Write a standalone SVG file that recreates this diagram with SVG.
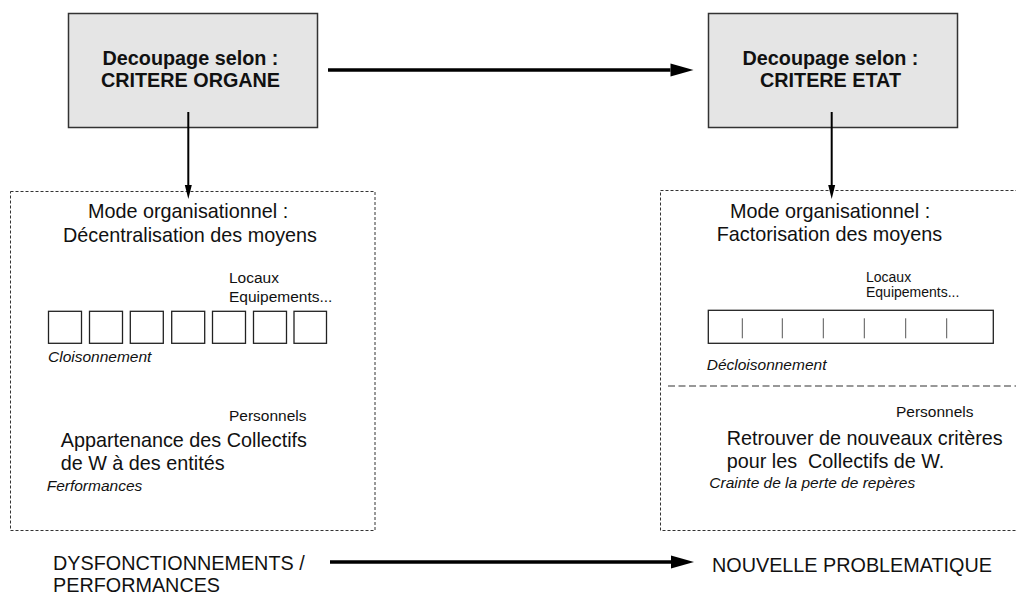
<svg xmlns="http://www.w3.org/2000/svg" width="1016" height="595" viewBox="0 0 1016 595">
<style>
text{font-family:"Liberation Sans",Arial,sans-serif;fill:#111}
.title{font-size:19.8px;font-weight:bold;text-anchor:middle}
.big{font-size:19.8px}
.small{font-size:15.5px}
.it{font-size:15.5px;font-style:italic}
.crit{fill:#e5e5e5;stroke:#333;stroke-width:1.5}
.zone{fill:none;stroke:#333;stroke-width:1;stroke-dasharray:3 2}
.cell{fill:#fff;stroke:#222;stroke-width:1.3}
.tick{stroke:#555;stroke-width:1}
.thick{stroke:#000;stroke-width:3.3;fill:none}
.thin{stroke:#000;stroke-width:2;fill:none}
.sep{stroke:#777;stroke-width:1.3;stroke-dasharray:7 3.5}
</style>
<defs>
<marker id="bigHead" markerUnits="userSpaceOnUse" markerWidth="24" markerHeight="14" refX="0" refY="7" orient="auto" overflow="visible">
<polygon points="0,0.5 23,7 0,13.5" fill="#000"/>
</marker>
<marker id="smallHead" markerUnits="userSpaceOnUse" markerWidth="15" markerHeight="8" refX="0" refY="4" orient="auto" overflow="visible">
<polygon points="0,0.5 14,4 0,7.5" fill="#000"/>
</marker>
</defs>

<g id="node-organe">
<rect class="crit" x="68.5" y="13.5" width="249" height="114"/>
<text class="title" x="190.5" y="65">Decoupage selon :</text>
<text class="title" x="190.5" y="87">CRITERE ORGANE</text>
</g>

<g id="node-etat">
<rect class="crit" x="708.5" y="13.5" width="249" height="114"/>
<text class="title" x="830.5" y="65">Decoupage selon :</text>
<text class="title" x="830.5" y="87">CRITERE ETAT</text>
</g>

<g id="node-decentralisation">
<rect class="zone" x="10.5" y="191.5" width="364.5" height="339"/>
<text class="big" x="88" y="218.3">Mode organisationnel :</text>
<text class="big" x="63" y="241.5">Décentralisation des moyens</text>
<text class="small" x="229" y="283.3">Locaux</text>
<text class="small" x="229" y="301.7">Equipements...</text>
<rect class="cell" x="48.5" y="311.3" width="33" height="32"/>
<rect class="cell" x="89.5" y="311.3" width="33" height="32"/>
<rect class="cell" x="130.3" y="311.3" width="33" height="32"/>
<rect class="cell" x="171.7" y="311.3" width="33" height="32"/>
<rect class="cell" x="212.5" y="311.3" width="33" height="32"/>
<rect class="cell" x="253.5" y="311.3" width="33" height="32"/>
<rect class="cell" x="294" y="311.3" width="32.5" height="32"/>
<text class="it" x="48" y="361.7">Cloisonnement</text>
<text class="small" x="229" y="420.7">Personnels</text>
<text class="big" x="60.7" y="447.3">Appartenance des Collectifs</text>
<text class="big" x="60.7" y="470">de W à des entités</text>
<text class="it" x="46.7" y="490.7">Ferformances</text>
</g>

<g id="node-factorisation">
<rect class="zone" x="660.5" y="190.5" width="400" height="340"/>
<text class="big" x="730" y="218.3">Mode organisationnel :</text>
<text class="big" x="716.7" y="240.7">Factorisation des moyens</text>
<text class="small" x="866" y="281.7" style="font-size:14px">Locaux</text>
<text class="small" x="866" y="296.7" style="font-size:14px">Equipements...</text>
<rect class="cell" x="708.3" y="310.3" width="285" height="33"/>
<line class="tick" x1="742.3" y1="318.3" x2="742.3" y2="338.3"/>
<line class="tick" x1="782.3" y1="318.3" x2="782.3" y2="338.3"/>
<line class="tick" x1="823.3" y1="318.3" x2="823.3" y2="338.3"/>
<line class="tick" x1="864.3" y1="318.3" x2="864.3" y2="338.3"/>
<line class="tick" x1="905.7" y1="318.3" x2="905.7" y2="338.3"/>
<line class="tick" x1="946.7" y1="318.3" x2="946.7" y2="338.3"/>
<text class="it" x="706.7" y="370">Décloisonnement</text>
<line class="sep" x1="668" y1="386" x2="1016" y2="386"/>
<text class="small" x="896" y="416.7">Personnels</text>
<text class="big" x="726.7" y="445">Retrouver de nouveaux critères</text>
<text class="big" x="726.7" y="468.3" xml:space="preserve">pour les  Collectifs de W.</text>
<text class="it" x="709.3" y="488.3">Crainte de la perte de repères</text>
</g>

<g id="node-dysfonctionnements">
<text class="big" x="53" y="570">DYSFONCTIONNEMENTS /</text>
<text class="big" x="53" y="592">PERFORMANCES</text>
</g>

<g id="node-problematique">
<text class="big" x="712" y="571.7">NOUVELLE PROBLEMATIQUE</text>
</g>

<g id="connectors">
<line class="thick" x1="328" y1="70" x2="670.5" y2="70" marker-end="url(#bigHead)"/>
<line class="thin" x1="188.3" y1="112" x2="188.3" y2="185" marker-end="url(#smallHead)"/>
<line class="thin" x1="831.7" y1="112" x2="831.7" y2="185" marker-end="url(#smallHead)"/>
<line class="thick" x1="330" y1="562" x2="671" y2="562" marker-end="url(#bigHead)"/>
</g>
</svg>
